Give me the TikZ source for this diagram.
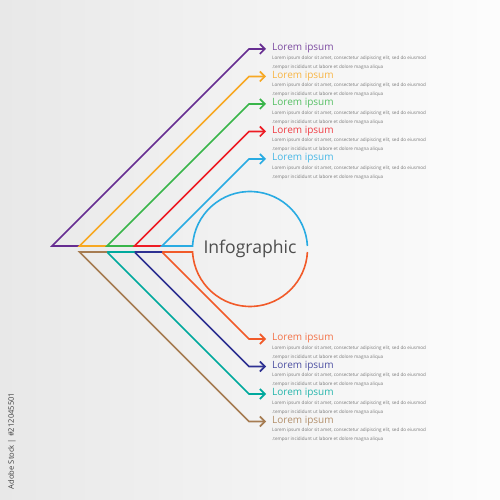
\documentclass[tikz,border=0pt]{standalone}
\usepackage{fontspec}
\setmainfont{Open Sans}
\usetikzlibrary{arrows.meta,calc}
\definecolor{cPurple}{RGB}{102,45,145}
\definecolor{cOrange}{RGB}{247,168,35}
\definecolor{cGreen}{RGB}{57,181,74}
\definecolor{cRed}{RGB}{237,28,36}
\definecolor{cBlue}{RGB}{41,171,226}
\definecolor{cOrangeB}{RGB}{241,90,41}
\definecolor{cNavy}{RGB}{46,49,146}
\definecolor{cTeal}{RGB}{0,169,157}
\definecolor{cBrown}{RGB}{166,124,82}
\definecolor{cBody}{RGB}{120,120,120}
\definecolor{cDark}{RGB}{77,77,77}
\tikzset{
  conn/.style={line width=1.6pt, line join=miter, {Straight Barb[length=5pt,width=10pt]}-},
  ttl/.style={anchor=west, inner sep=0pt, font=\fontsize{10}{12}\selectfont},
  bodytxt/.style={anchor=west, inner sep=0pt, text=cBody, font=\fontsize{4.6}{5}\selectfont},
}
\newcommand{\entry}[3]{% name, y, colour
  \coordinate (#1tip) at (266,#2);
  \coordinate (#1turn) at (249,#2);
  \node[ttl, text=#3!85!white] (#1title) at (272,#2+0.5) {Lorem ipsum};
  \node[bodytxt] (#1b1) at (272,#2-9.3) {Lorem ipsum dolor sit amet, consectetur adipiscing elit, sed do eiusmod};
  \node[bodytxt] (#1b2) at (272,#2-18.3) {.tempor incididunt ut labore et dolore magna aliqua};
}
\begin{document}
\begin{tikzpicture}[x=1pt,y=1pt]
\useasboundingbox (0,0) rectangle (500,500);
\shade[left color=black!9, right color=black!1] (0,0) rectangle (500,500);
% upper entries
\entry{p}{451}{cPurple}
\entry{o}{423.5}{cOrange}
\entry{g}{396}{cGreen}
\entry{r}{368.5}{cRed}
\entry{b}{341}{cBlue}
% lower entries
\entry{q}{161}{cOrangeB}
\entry{n}{133.5}{cNavy}
\entry{t}{106}{cTeal}
\entry{w}{78.5}{cBrown}
% base points
\coordinate (u1) at (52,254);
\coordinate (u2) at (79.5,254);
\coordinate (u3) at (107,254);
\coordinate (u4) at (134.5,254);
\coordinate (u5) at (162,254);
\coordinate (l2) at (79.5,248);
\coordinate (l3) at (107,248);
\coordinate (l4) at (134.5,248);
\coordinate (l5) at (162,248);
\coordinate (cc) at (250,251);
\coordinate (cl) at ($(cc)+(177:57.5)$);
\coordinate (clb) at ($(cc)+(183:57.5)$);
\node[text=cDark, font=\fontsize{17.6}{20}\selectfont, inner sep=0pt] (info) at (cc) {Infographic};
% upper connectors
\draw[conn, cPurple] (ptip) -- (pturn) -- (u1) -- (u2);
\draw[conn, cOrange] (otip) -- (oturn) -- (u2) -- (u3);
\draw[conn, cGreen] (gtip) -- (gturn) -- (u3) -- (u4);
\draw[conn, cRed] (rtip) -- (rturn) -- (u4) -- (u5);
\draw[conn, cBlue] (btip) -- (bturn) -- (u5) -- (cl) arc[start angle=177, end angle=3, radius=57.5];
% lower connectors
\draw[conn, cOrangeB] (qtip) -- (qturn) -- (l5) -- (clb) arc[start angle=183, end angle=357, radius=57.5];
\draw[conn, cNavy] (ntip) -- (nturn) -- (l4) -- (l5);
\draw[conn, cTeal] (ttip) -- (tturn) -- (l3) -- (l4);
\draw[conn, cBrown] (wtip) -- (wturn) -- (l2) -- (l3);
% vertical stock label
\node[rotate=90, text=black!75, font=\fontsize{7.6}{9}\selectfont, inner sep=0pt] (stock) at (12,59) {Adobe Stock | \#212045501};
\end{tikzpicture}
\end{document}
